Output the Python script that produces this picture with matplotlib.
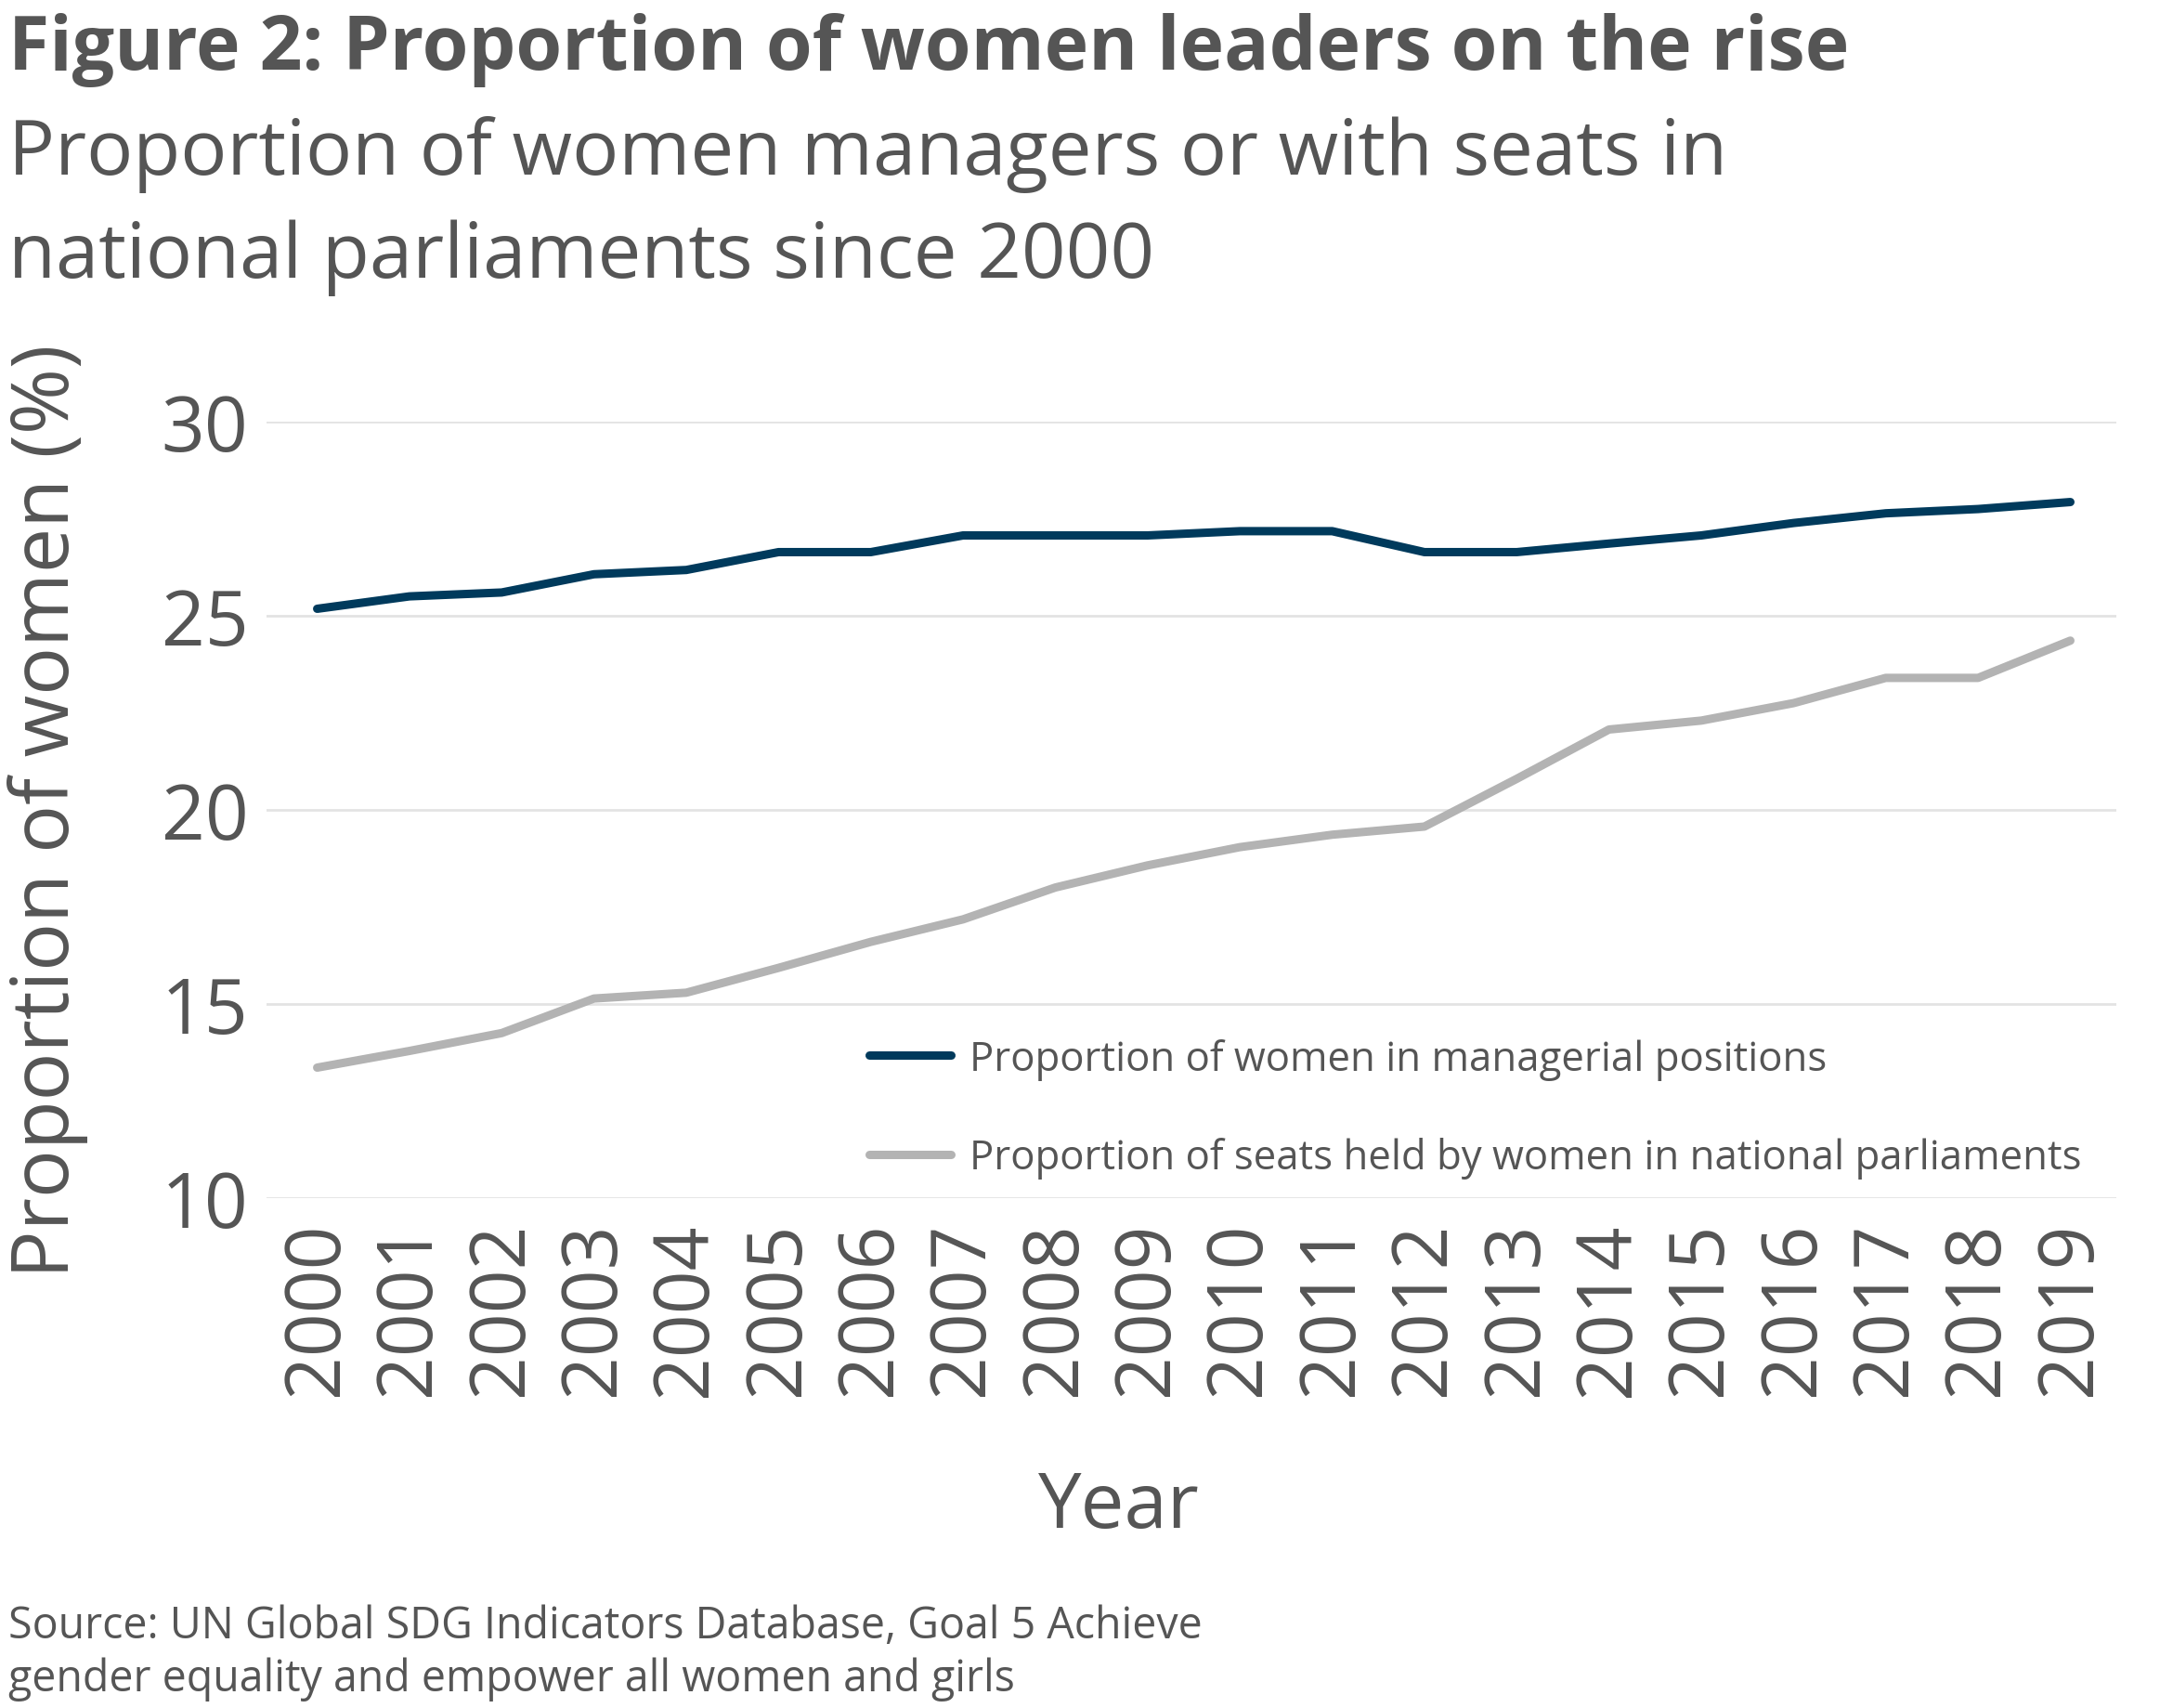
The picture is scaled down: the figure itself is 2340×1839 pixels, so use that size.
import matplotlib.pyplot as plt

years = [2000, 2001, 2002, 2003, 2004, 2005, 2006, 2007, 2008, 2009,
         2010, 2011, 2012, 2013, 2014, 2015, 2016, 2017, 2018, 2019]
managers = [25.18, 25.5, 25.6, 26.07, 26.18, 26.64, 26.64, 27.07, 27.07, 27.07,
            27.18, 27.18, 26.64, 26.64, 26.86, 27.07, 27.39, 27.64, 27.75, 27.93]
parliament = [13.36, 13.79, 14.25, 15.14, 15.29, 15.93, 16.6, 17.18, 18.0, 18.57,
              19.04, 19.36, 19.57, 20.8, 22.07, 22.3, 22.75, 23.4, 23.4, 24.36]
yticks = [10, 15, 20, 25, 30]

label_managers = "Proportion of women in managerial positions"
label_parliament = "Proportion of seats held by women in national parliaments"

plt.rcParams['font.family'] = ['Open Sans', 'DejaVu Sans']
text_col = '#555555'

fig = plt.figure(figsize=(23.4, 18.4), dpi=100)
ax = fig.add_axes([0.1226, 0.2984, 0.8514, 0.4543])

ax.plot(years, managers, color='#003a5c', linewidth=6.5,
        solid_capstyle='round', label=label_managers)
ax.plot(years, parliament, color='#b3b3b3', linewidth=6.5,
        solid_capstyle='round', label=label_parliament)

ax.set_xlim(1999.45, 2019.5)
ax.set_ylim(10, 30)
ax.set_yticks(yticks)
ax.set_xticks(years)
ax.set_xticklabels([str(y) for y in years], rotation=90)
ax.tick_params(axis='both', length=0, labelsize=59, colors=text_col)
ax.tick_params(axis='y', pad=14)
ax.tick_params(axis='x', pad=18)
ax.grid(axis='y', color='#e3e3e3', linewidth=2)
ax.set_axisbelow(True)
for s in ax.spines.values():
    s.set_visible(False)

ax.set_ylabel("Proportion of women (%)", fontsize=62, color=text_col, va='center')
ax.yaxis.set_label_coords(-0.118, 0.5)
ax.set_xlabel("Year", fontsize=60, color=text_col, va='center')
ax.xaxis.set_label_coords(0.461, -0.398)

leg = ax.legend(loc='lower left', bbox_to_anchor=(0.326, 0.025), frameon=False,
                fontsize=31.5, handlelength=2.0, handletextpad=0.45,
                labelspacing=1.4, borderpad=0, borderaxespad=0)
for t in leg.get_texts():
    t.set_color(text_col)

fig.text(0.004, 0.959, "Figure 2: Proportion of women leaders on the rise",
         fontsize=58, fontweight='bold', color=text_col, va='baseline', ha='left')
fig.text(0.004, 0.898, "Proportion of women managers or with seats in",
         fontsize=60, color=text_col, va='baseline', ha='left')
fig.text(0.004, 0.8375, "national parliaments since 2000",
         fontsize=60, color=text_col, va='baseline', ha='left')
fig.text(0.004, 0.0413, "Source: UN Global SDG Indicators Database, Goal 5 Achieve",
         fontsize=33.5, color=text_col, va='baseline', ha='left')
fig.text(0.004, 0.0103, "gender equality and empower all women and girls",
         fontsize=33.5, color=text_col, va='baseline', ha='left')

fig.savefig('out.png', dpi=100, facecolor='white')
